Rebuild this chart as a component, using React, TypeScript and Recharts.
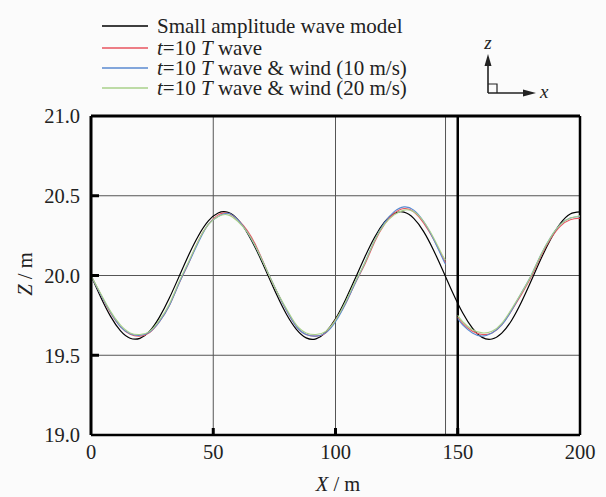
import { LineChart, Line, XAxis, YAxis, ReferenceLine } from "recharts";

// small amplitude wave model, sampled every 4 m
const modelX = [
  0, 4, 8, 12, 16, 20, 24, 28, 32, 36, 40, 44, 48, 52, 56, 60, 64, 68, 72, 76,
  80, 84, 88, 92, 96, 100, 104, 108, 112, 116, 120, 124, 128, 132, 136, 140,
  144, 148, 152, 156, 160, 164, 168, 172, 176, 180, 184, 188, 192, 196, 200,
];
const modelZ = [
  20.0, 19.864, 19.744, 19.655, 19.607, 19.606, 19.651, 19.739, 19.857, 19.993,
  20.13, 20.251, 20.342, 20.392, 20.396, 20.352, 20.266, 20.149, 20.014, 19.877,
  19.755, 19.662, 19.609, 19.603, 19.645, 19.728, 19.845, 19.979, 20.116, 20.24,
  20.334, 20.389, 20.397, 20.358, 20.277, 20.162, 20.028, 19.89, 19.766, 19.67,
  19.612, 19.602, 19.639, 19.718, 19.832, 19.965, 20.103, 20.228, 20.327, 20.386,
  20.399,
];

// simulated runs: first stretch up to 145 m, second from 150 m
const run1X = [
  0, 4, 8, 12, 16, 20, 24, 28, 32, 36, 40, 44, 48, 52, 56, 60, 64, 68, 72, 76,
  80, 84, 88, 92, 96, 100, 104, 108, 112, 116, 120, 124, 128, 132, 136, 140,
  144, 145,
];
const run2X = [150, 152, 156, 160, 164, 168, 172, 176, 180, 184, 188, 192, 196, 200];

const waveZ1 = [
  20.0, 19.88, 19.765, 19.68, 19.632, 19.62, 19.642, 19.71, 19.81, 19.95, 20.08,
  20.22, 20.32, 20.38, 20.39, 20.35, 20.28, 20.17, 20.03, 19.9, 19.78, 19.68,
  19.63, 19.62, 19.64, 19.72, 19.82, 19.95, 20.07, 20.21, 20.32, 20.39, 20.42,
  20.4, 20.33, 20.23, 20.11, 20.08,
];
const waveZ2 = [19.74, 19.7, 19.65, 19.63, 19.64, 19.69, 19.78, 19.88, 19.99, 20.12, 20.23, 20.31, 20.35, 20.36];

const wind10Z1 = [
  20.0, 19.88, 19.77, 19.68, 19.635, 19.625, 19.645, 19.71, 19.81, 19.95, 20.08,
  20.21, 20.32, 20.37, 20.39, 20.35, 20.27, 20.16, 20.03, 19.9, 19.78, 19.68,
  19.63, 19.62, 19.64, 19.71, 19.82, 19.95, 20.08, 20.22, 20.33, 20.4, 20.43,
  20.41, 20.34, 20.23, 20.1, 20.07,
];
const wind10Z2 = [19.73, 19.69, 19.64, 19.62, 19.64, 19.69, 19.78, 19.89, 20.0, 20.13, 20.24, 20.32, 20.36, 20.37];

const wind20Z1 = [
  20.0, 19.885, 19.775, 19.69, 19.64, 19.63, 19.65, 19.72, 19.82, 19.96, 20.09,
  20.22, 20.32, 20.37, 20.38, 20.34, 20.27, 20.16, 20.03, 19.9, 19.79, 19.69,
  19.64, 19.63, 19.65, 19.72, 19.83, 19.96, 20.08, 20.22, 20.32, 20.38, 20.41,
  20.4, 20.34, 20.24, 20.12, 20.1,
];
const wind20Z2 = [19.75, 19.71, 19.66, 19.64, 19.65, 19.7, 19.79, 19.89, 20.0, 20.13, 20.24, 20.32, 20.36, 20.375];

const xTicks = [0, 50, 100, 150, 200];
const zTicks = [19.0, 19.5, 20.0, 20.5, 21.0];

const FONT = "Liberation Serif, Times New Roman, serif";
const RED = "#e8555f";
const BLUE = "#5a8ad0";
const GREEN = "#a8d08a";

const modelData = modelX.map((x, i) => ({ x, z: modelZ[i] }));

// gap between 145 m and 150 m
const joinRuns = (z1: number[], z2: number[]) => [
  ...run1X.map((x, i) => ({ x, z: z1[i] })),
  { x: 147.5, z: null },
  ...run2X.map((x, i) => ({ x, z: z2[i] })),
];

const TICK_MARGIN_Y = 11;
const TICK_MARGIN_X = 9;
const tickStyle = { fontFamily: FONT, fontSize: 20.5, fill: "#222" };

const YTick = (props: any) => {
  const { x, y, payload } = props;
  const ax = x + TICK_MARGIN_Y;
  const v = payload.value;
  return (
    <g>
      {v > 19 && v < 21 && (
        <line x1={ax} x2={ax + 8} y1={y} y2={y} stroke="#000" strokeWidth={3} />
      )}
      <text x={x} y={y} dy="0.36em" textAnchor="end" style={tickStyle}>
        {v.toFixed(1)}
      </text>
    </g>
  );
};

const XTick = (props: any) => {
  const { x, y, payload } = props;
  const ay = y - TICK_MARGIN_X;
  const v = payload.value;
  return (
    <g>
      {v > 0 && v < 200 && (
        <line x1={x} x2={x} y1={ay} y2={ay - 7} stroke="#000" strokeWidth={3} />
      )}
      <text x={x} y={y} dy="0.71em" textAnchor="middle" style={tickStyle}>
        {v}
      </text>
    </g>
  );
};

const legendRows = [
  { color: "#000", y: 26 },
  { color: RED, y: 48 },
  { color: BLUE, y: 68 },
  { color: GREEN, y: 88 },
];

function Overlay() {
  const t = { fontFamily: FONT, fontSize: 21, fill: "#222" };
  const it = { fontStyle: "italic" as const };
  const title = { ...t, fontSize: 20.5 };
  return (
    <svg width={606} height={497} style={{ position: "absolute", left: 0, top: 0, pointerEvents: "none" }}>
      {legendRows.map((r) => (
        <line key={r.y} x1={102} x2={148} y1={r.y} y2={r.y} stroke={r.color} strokeWidth={1.3} />
      ))}
      <text x={157} y={33} style={t}>Small amplitude wave model</text>
      <text x={157} y={55} style={t}>
        <tspan style={it}>t</tspan>{"=10 "}<tspan style={it}>T</tspan>{" wave"}
      </text>
      <text x={157} y={75} style={t}>
        <tspan style={it}>t</tspan>{"=10 "}<tspan style={it}>T</tspan>{" wave & wind (10 m/s)"}
      </text>
      <text x={157} y={95} style={t}>
        <tspan style={it}>t</tspan>{"=10 "}<tspan style={it}>T</tspan>{" wave & wind (20 m/s)"}
      </text>

      {/* coordinate icon */}
      <line x1={488} y1={93} x2={488} y2={64} stroke="#222" strokeWidth={1.6} />
      <polygon points="484.5,66 491.5,66 488,54" fill="#222" />
      <line x1={488} y1={93} x2={524} y2={93} stroke="#222" strokeWidth={1.6} />
      <polygon points="523,89.5 523,96.5 536,93" fill="#222" />
      <polyline points="488,84 497,84 497,93" fill="none" stroke="#222" strokeWidth={1.2} />
      <text x={488} y={49} textAnchor="middle" style={{ ...t, fontSize: 19, fontStyle: "italic" }}>z</text>
      <text x={540} y={98} style={{ ...t, fontSize: 19, fontStyle: "italic" }}>x</text>

      {/* axis titles */}
      <text x={338} y={491} textAnchor="middle" style={title}>
        <tspan style={it}>X</tspan>{" / m"}
      </text>
      <text transform="translate(32,274) rotate(-90)" textAnchor="middle" style={title}>
        <tspan style={it}>Z</tspan>{" / m"}
      </text>
    </svg>
  );
}

export default function App() {
  return (
    <div style={{ position: "absolute", left: 0, top: 0, width: 606, height: 497, background: "#fbfbfb" }}>
      <LineChart width={606} height={497} margin={{ top: 116, right: 26, bottom: 12, left: 31 }}>
        <XAxis
          dataKey="x"
          type="number"
          domain={[0, 200]}
          ticks={xTicks}
          interval={0}
          height={50}
          tickSize={0}
          tickLine={false}
          tickMargin={TICK_MARGIN_X}
          tick={<XTick />}
          axisLine={{ stroke: "#000", strokeWidth: 2.5 }}
          allowDataOverflow
        />
        <YAxis
          type="number"
          domain={[19, 21]}
          ticks={zTicks}
          interval={0}
          width={60}
          tickSize={0}
          tickLine={false}
          tickMargin={TICK_MARGIN_Y}
          tick={<YTick />}
          axisLine={{ stroke: "#000", strokeWidth: 3 }}
          allowDataOverflow
        />
        <ReferenceLine y={20.5} stroke="#555" strokeWidth={1} />
        <ReferenceLine y={20.0} stroke="#555" strokeWidth={1} />
        <ReferenceLine y={19.5} stroke="#555" strokeWidth={1} />
        <ReferenceLine x={50} stroke="#555" strokeWidth={1} />
        <ReferenceLine x={100} stroke="#555" strokeWidth={1} />
        <ReferenceLine x={145} stroke="#555" strokeWidth={1} />
        <ReferenceLine x={150} stroke="#000" strokeWidth={2.5} />
        <ReferenceLine y={21} stroke="#000" strokeWidth={3} />
        <ReferenceLine x={200} stroke="#000" strokeWidth={2.5} />

        <Line
          data={modelData}
          dataKey="z"
          type="natural"
          stroke="#000"
          strokeWidth={1.2}
          dot={false}
          isAnimationActive={false}
        />
        <Line
          data={joinRuns(waveZ1, waveZ2)}
          dataKey="z"
          type="natural"
          stroke={RED}
          strokeWidth={1.1}
          dot={false}
          connectNulls={false}
          isAnimationActive={false}
        />
        <Line
          data={joinRuns(wind10Z1, wind10Z2)}
          dataKey="z"
          type="natural"
          stroke={BLUE}
          strokeWidth={1.1}
          dot={false}
          connectNulls={false}
          isAnimationActive={false}
        />
        <Line
          data={joinRuns(wind20Z1, wind20Z2)}
          dataKey="z"
          type="natural"
          stroke={GREEN}
          strokeWidth={1.1}
          dot={false}
          connectNulls={false}
          isAnimationActive={false}
        />
      </LineChart>
      <Overlay />
    </div>
  );
}
